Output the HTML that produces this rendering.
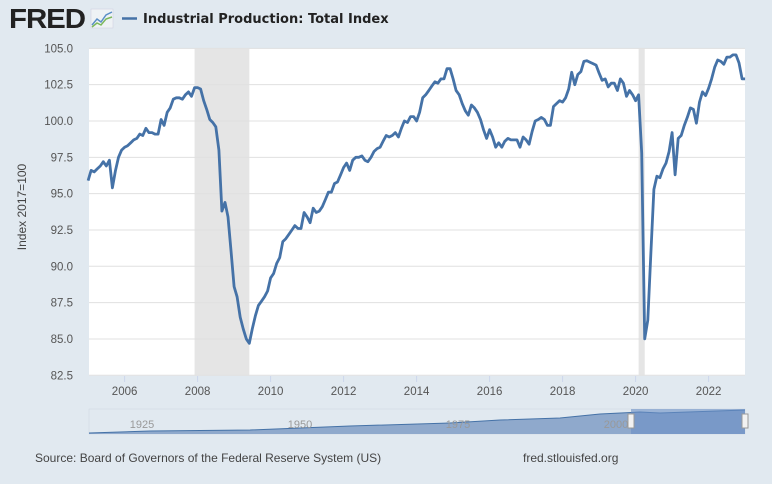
<!DOCTYPE html>
<html><head><meta charset="utf-8">
<style>
body{margin:0;width:772px;height:484px;background:#e1e9f0;font-family:"Liberation Sans",sans-serif;overflow:hidden}
svg{display:block}
</style></head>
<body>
<svg width="772" height="484">
<g>
<text x="9" y="28" font-size="28" font-weight="bold" fill="#222" letter-spacing="-1" textLength="76" lengthAdjust="spacingAndGlyphs">FRED</text>
<rect x="91" y="9" width="22" height="19" fill="#eef2f5" stroke="#ccd" stroke-width="0.5"/>
<polyline points="92,25 97,19 101,22 106,15 112,12" fill="none" stroke="#5b8fc7" stroke-width="1.5"/>
<polyline points="92,27 97,23 101,25 106,19 112,17" fill="none" stroke="#7cb85c" stroke-width="1.5"/>
</g>
<g>
<line x1="122" y1="18.5" x2="137" y2="18.5" stroke="#4572a7" stroke-width="2.5"/>
<text x="143" y="23" font-size="13" font-weight="bold" fill="#222" font-family="DejaVu Sans, sans-serif">Industrial Production: Total Index</text>
</g>
<rect x="89" y="48.7" width="656" height="327" fill="#fff"/>
<g id="rec"></g>
<g id="grid"></g>
<g id="xt"></g>
<text transform="translate(26,207) rotate(-90)" font-size="12" fill="#444" text-anchor="middle">Index 2017=100</text>
<path id="line" fill="none" stroke="#4572a7" stroke-width="2.8" stroke-linejoin="round"/>
<g>
<rect x="89" y="409" width="656" height="25" fill="#e1e9f0" stroke="#cfd6dd" stroke-width="0.5"/>
<path d="M89,433 L150,431 L250,430 L350,426 L450,423 L500,420 L560,418 L600,414 L640,412 L660,413 L745,410 L745,434 L89,434Z" fill="#8fa9cc"/>
<path d="M89,433 L150,431 L250,430 L350,426 L450,423 L500,420 L560,418 L600,414 L640,412 L660,413 L745,410" fill="none" stroke="#4572a7" stroke-width="1"/>
<rect x="631" y="409" width="114" height="25" fill="#6a8fc4" opacity="0.6"/>
<text x="142" y="428" font-size="11" fill="#999" text-anchor="middle">1925</text>
<text x="300" y="428" font-size="11" fill="#999" text-anchor="middle">1950</text>
<text x="458" y="428" font-size="11" fill="#999" text-anchor="middle">1975</text>
<text x="616" y="428" font-size="11" fill="#999" text-anchor="middle">2000</text>
<rect x="628" y="414" width="6" height="14" fill="#f2f2f2" stroke="#999"/>
<rect x="742" y="414" width="6" height="14" fill="#f2f2f2" stroke="#999"/>
</g>
<text x="35" y="462" font-size="12" fill="#444">Source: Board of Governors of the Federal Reserve System (US)</text>
<text x="523" y="462" font-size="12" fill="#444">fred.stlouisfed.org</text>
</svg>
<script>
const startYear = 2005;
const values = [
95.9,96.6,96.5,96.7,96.9,97.2,96.9,97.3,95.4,96.6,97.5,98.0,
98.2,98.3,98.5,98.7,98.8,99.1,99.0,99.5,99.2,99.2,99.1,99.1,
100.1,99.7,100.6,100.9,101.5,101.6,101.6,101.5,101.8,102.0,101.7,102.3,
102.3,102.2,101.4,100.8,100.1,99.9,99.6,98.0,93.8,94.4,93.4,91.0,
88.6,87.9,86.5,85.7,85.0,84.7,85.7,86.6,87.3,87.6,87.9,88.3,
89.2,89.5,90.2,90.6,91.7,91.9,92.2,92.5,92.8,92.6,92.6,93.7,
93.4,93.0,94.0,93.7,93.8,94.1,94.6,95.1,95.1,95.7,95.8,96.3,
96.8,97.1,96.6,97.3,97.5,97.5,97.6,97.3,97.2,97.5,97.9,98.1,
98.2,98.6,99.0,98.9,99.0,99.2,98.9,99.5,100.0,99.9,100.3,100.3,
100.0,100.6,101.6,101.8,102.1,102.4,102.7,102.6,102.9,102.9,103.6,103.6,
102.9,102.1,101.8,101.2,100.7,100.4,101.1,100.9,100.6,100.1,99.4,98.8,
99.4,98.9,98.2,98.5,98.2,98.6,98.8,98.7,98.7,98.7,98.2,98.9,
98.7,98.4,99.3,100.0,100.1,100.25,100.1,99.7,99.7,101.0,101.2,101.4,
101.3,101.6,102.2,103.35,102.5,103.2,103.4,104.1,104.15,104.05,103.95,103.85,
103.3,102.8,102.9,102.35,102.6,102.6,102.1,102.9,102.6,101.7,102.1,101.8,
101.4,101.8,97.8,85.0,86.3,90.8,95.3,96.2,96.1,96.7,97.1,97.9,
99.2,96.3,98.8,99.0,99.7,100.25,100.9,100.8,99.85,101.3,102.0,101.75,
102.25,102.9,103.7,104.2,104.1,103.9,104.4,104.4,104.55,104.55,104.0,102.9,
102.9];
const yTicks = [82.5,85.0,87.5,90.0,92.5,95.0,97.5,100.0,102.5,105.0];
const xTickYears = [2006,2008,2010,2012,2014,2016,2018,2020,2022];
const recessionStarts = [2007.917,2020.083];
const recessionEnds = [2009.417,2020.25];

const NS='http://www.w3.org/2000/svg';
const X = t => 88.1 + (t - startYear) * 36.5;
const Y = v => 121 + (100 - v) * 14.53;
function mk(tag, attrs, parent){const e=document.createElementNS(NS,tag);for(const k in attrs)e.setAttribute(k,attrs[k]);parent.appendChild(e);return e;}

const rec=document.getElementById('rec');
recessionStarts.forEach((s,i)=>{
  const r=mk('rect',{x:X(s),y:48.7,width:X(recessionEnds[i])-X(s),height:327,fill:'#e5e5e5'},rec);
  
  
});
const grid=document.getElementById('grid');
yTicks.forEach(v=>{
  const l=mk('line',{x1:89,x2:745,y1:Y(v),y2:Y(v),stroke:'#e0e0e0','stroke-width':1},grid);
  
  
  const t=mk('text',{x:73,y:Y(v)+4,'font-size':11.5,fill:'#555','text-anchor':'end'},grid);
  t.textContent=v.toFixed(1);
  
  
});
const xt=document.getElementById('xt');
xTickYears.forEach(yr=>{
  const l=mk('line',{x1:X(yr),x2:X(yr),y1:376,y2:382,stroke:'#ccd6eb'},xt);
  
  
  const t=mk('text',{x:X(yr),y:395,'font-size':11.5,fill:'#555','text-anchor':'middle'},xt);
  t.textContent=yr;
  
  
});
let d='';
values.forEach((v,i)=>{d+=(i?'L':'M')+X(startYear+i/12).toFixed(1)+','+Y(v).toFixed(1);});
document.getElementById('line').setAttribute('d',d);
</script>
</body></html>
